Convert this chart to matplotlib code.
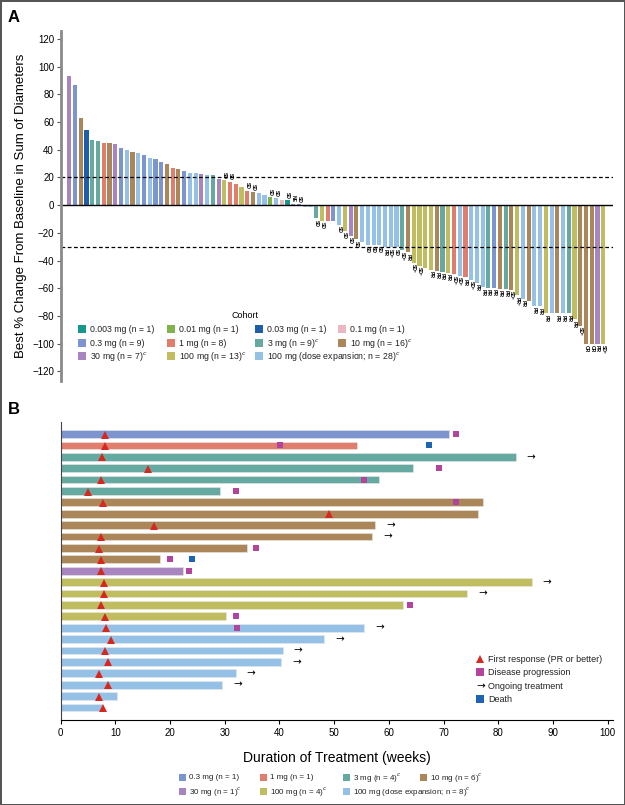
import numpy as np
import matplotlib
matplotlib.use('Agg')
import matplotlib.pyplot as plt
from matplotlib.patches import Rectangle
from matplotlib.lines import Line2D

plt.rcParams['font.family'] = ['Liberation Sans', 'DejaVu Sans']

# Cohortes (clave, color, etiqueta panel A)
cohort_keys = ['0.003', '0.01', '0.03', '0.1', '0.3', '1', '3', '10', '30', '100', 'exp']
cohort_colors = ['#17968b', '#80b34c', '#1f5ea8', '#ebb7c2', '#7d95cf', '#e07d6c',
                 '#65a9a0', '#ab8659', '#a985bf', '#bfbd5f', '#96c1e7']
cohort_labels_a = ['0.003 mg (n = 1)', '0.01 mg (n = 1)', '0.03 mg (n = 1)', '0.1 mg (n = 1)',
                   '0.3 mg (n = 9)', '1 mg (n = 8)', '3 mg (n = 9)$^c$', '10 mg (n = 16)$^c$',
                   '30 mg (n = 7)$^c$', '100 mg (n = 13)$^c$', '100 mg (dose expansion; n = 28)$^c$']
color_of = dict(zip(cohort_keys, cohort_colors))

# Panel A: waterfall
wf_cohort = ['30', '0.3', '10', '0.03', '3', '3', '1', '10', '30', '0.3',
             'exp', '10', 'exp', '0.3', 'exp', '0.3', '0.3', '10', '1', '10',
             '0.3', 'exp', 'exp', '30', 'exp', '3', '30', '100', '1', '1',
             '100', '1', '10', 'exp', 'exp', '0.01', 'exp', '0.1', '0.003', '30',
             '0.3', 'exp', 'exp', '3', '100', '1', '0.3', 'exp', '100', '30',
             '10', 'exp', 'exp', 'exp', 'exp', 'exp', 'exp', 'exp', '3', '10',
             '100', '100', '100', '100', '10', '3', '100', '1', 'exp', '1',
             'exp', 'exp', 'exp', '3', '0.3', '10', '3', '10', '100', 'exp',
             '10', 'exp', 'exp', '100', 'exp', '10', 'exp', '3', '100', '10',
             '10', '10', '30', '100']
wf_change = [93, 87, 63, 54, 47, 46.5, 45, 45, 44, 41,
             40, 38.5, 37.7, 36, 34, 33, 31.5, 30, 26.7, 25.8,
             24.8, 23.2, 23, 22.4, 21.8, 21.8, 18.7, 18.2, 17, 15.4,
             13, 10.4, 9.4, 8.5, 7, 5.6, 5.1, 3.6, 3.6, 1,
             1, -1, -1, -9.4, -11.4, -11.4, -11.4, -14.3, -18.6, -22.3,
             -24.7, -26.4, -28.8, -28.8, -28.8, -30.5, -30.5, -30.5, -32.5, -34,
             -41.5, -44, -45.5, -46.5, -47.2, -48, -48.8, -50, -51, -52,
             -54, -56, -59.3, -59.9, -59.9, -60.2, -60.4, -61.3, -65, -67.6,
             -69.2, -72.5, -73, -78, -78, -78, -78, -78, -82.5, -87,
             -100, -100, -100, -100]
SDc = 'SD\u1d9c'
PRc = 'PR\u1d9c'
wf_resp = ['', '', '', '', '', '', '', '', '', '',
           '', '', '', '', '', '', '', '', '', '',
           '', '', '', '', '', '', '', 'SD', 'SD', '',
           '', 'SD', 'SD', '', '', 'SD', 'SD', '', 'SD', 'NE',
           'SD', '', '', 'SD', 'SD', '', '', 'SD', 'SD', 'SD',
           'SD', '', 'SD', 'SD', 'SD', 'PR', SDc, 'SD', SDc, 'PR',
           SDc, SDc, '', 'PR', 'PR', 'PR', 'PR', SDc, SDc, 'PR',
           SDc, 'PR', 'PR', 'PR', 'PR', 'PR', 'PR', SDc, PRc, 'PR',
           '', 'PR', 'PR', 'PR', '', 'PR', 'PR', 'PR', 'PR', SDc,
           'CR', 'CR', 'PR', SDc]

# Panel B: duracion del tratamiento (semanas)
sw_cohort = ['0.3', '1', '3', '3', '3', '3', '10', '10', '10', '10', '10', '10', '30',
             '100', '100', '100', '100', 'exp', 'exp', 'exp', 'exp', 'exp', 'exp', 'exp', 'exp']
sw_duration = [71.0, 54.2, 83.2, 64.5, 58.2, 29.1, 77.3, 76.3, 57.5, 57.0, 34.1, 18.1, 22.3,
               86.1, 74.2, 62.5, 30.3, 55.4, 48.1, 40.6, 40.3, 32.0, 29.5, 10.4, 7.5]
sw_first_resp = [8.2, 8.2, 7.6, 16.0, 7.4, 5.0, 7.7, 49.1, 17.1, 7.3, 7.1, 7.3, 7.3,
                 7.9, 8.0, 7.4, 8.2, 8.3, 9.2, 8.2, 8.7, 7.1, 8.7, 7.1, 7.7]
pd_rows = [0, 1, 3, 4, 5, 6, 10, 11, 12, 15, 16, 17]
pd_weeks = [72.2, 40.1, 69.2, 55.4, 32.0, 72.2, 35.8, 20.0, 23.5, 63.9, 32.0, 32.3]
death_rows = [1, 11]
death_weeks = [67.4, 24.0]
ongoing_rows = [2, 8, 9, 13, 14, 17, 18, 19, 20, 21, 22]
ongoing_weeks = [86.0, 60.3, 59.8, 88.9, 77.1, 58.3, 51.0, 43.4, 43.2, 34.8, 32.3]

b_legend_keys = ['0.3', '1', '3', '10', '30', '100', 'exp']
b_legend_labels = ['0.3 mg (n = 1)', '1 mg (n = 1)', '3 mg (n = 4)$^c$', '10 mg (n = 6)$^c$',
                   '30 mg (n = 1)$^c$', '100 mg (n = 4)$^c$', '100 mg (dose expansion; n = 8)$^c$']

W, H = 625, 805
def fx(px):
    return px / W
def fy(py):
    return 1 - py / H

fig = plt.figure(figsize=(W / 100, H / 100), dpi=100)
fig.patch.set_edgecolor('#555555')
fig.patch.set_linewidth(2)

# ---------------- Panel A ----------------
axA = fig.add_axes([fx(61), fy(381), fx(613) - fx(61), fy(30.7) - fy(381)])
x = np.arange(len(wf_change))
axA.bar(x, wf_change, width=0.72, color=[color_of[c] for c in wf_cohort])
narrow = ['Liberation Sans Narrow', 'Liberation Sans', 'DejaVu Sans']
for xi, v, lab in zip(x, wf_change, wf_resp):
    if lab == '':
        continue
    if v >= 0:
        axA.text(xi, v + 1.0, lab, rotation=270, ha='center', va='bottom', fontsize=3.6,
                 fontweight='bold', family=narrow)
    else:
        axA.text(xi, v - 1.0, lab, rotation=270, ha='center', va='top', fontsize=3.6,
                 fontweight='bold', family=narrow)
axA.axhline(0, color='black', lw=1)
axA.axhline(20, color='black', lw=0.9, ls=(0, (3, 2)))
axA.axhline(-30, color='black', lw=0.9, ls=(0, (3, 2)))
axA.set_xlim(-1.45, 94.7)
axA.set_ylim(-127, 126)
axA.set_yticks(np.arange(-120, 121, 20))
axA.set_xticks([])
for s in ['top', 'right', 'bottom']:
    axA.spines[s].set_visible(False)
axA.spines['left'].set_color('#8a8a8a')
axA.spines['left'].set_linewidth(2)
axA.tick_params(axis='y', labelsize=7, length=3, width=0.8, color='#555555', pad=2)
axA.set_ylabel('Best % Change From Baseline in Sum of Diameters', fontsize=9.5, labelpad=4)

fig.text(fx(8), fy(18), 'A', fontsize=12, fontweight='bold', va='center', ha='left')

# Leyenda de cohortes (panel A)
fig.text(fx(245), fy(315), 'Cohort', fontsize=6.5, ha='center', va='center')
col_x = [78.3, 166.7, 255, 338.3]
row_y = [329, 343, 356]
order = [[0, 1, 2, 3], [4, 5, 6, 7], [8, 9, 10]]
for r, idxs in enumerate(order):
    for c, k in enumerate(idxs):
        sx, sy = col_x[c], row_y[r]
        fig.add_artist(Rectangle((fx(sx), fy(sy + 4)), 8 / W, 8 / H,
                                 transform=fig.transFigure, color=cohort_colors[k], lw=0))
        fig.text(fx(sx + 12), fy(sy), cohort_labels_a[k], fontsize=6.3, va='center', ha='left',
                 color='#222222')

# ---------------- Panel B ----------------
axB = fig.add_axes([fx(60.6), fy(720), fx(612.6) - fx(60.6), fy(421.7) - fy(720)])
rows = np.arange(len(sw_duration))
axB.barh(rows, sw_duration, height=0.68, color=[color_of[c] for c in sw_cohort],
         edgecolor='#e8e8e8', linewidth=0.4)
axB.plot(sw_first_resp, rows + 0.05, ls='none', marker='^', ms=6, color='#d6281f',
         markeredgewidth=0)
axB.plot(pd_weeks, pd_rows, ls='none', marker='s', ms=4.5, color='#b3449b',
         markeredgewidth=0)
axB.plot(death_weeks, death_rows, ls='none', marker='s', ms=4.5, color='#1d64b3',
         markeredgewidth=0)
for r, w in zip(ongoing_rows, ongoing_weeks):
    axB.text(w, r, '\u2192', ha='center', va='center', fontsize=7.5, family='DejaVu Sans')
axB.set_xlim(0, 100.9)
axB.set_ylim(25.1, -1.08)
axB.set_xticks(np.arange(0, 101, 10))
axB.set_yticks([])
for s in ['top', 'right']:
    axB.spines[s].set_visible(False)
axB.spines['left'].set_color('#444444')
axB.spines['left'].set_linewidth(0.8)
axB.spines['bottom'].set_linewidth(0.8)
axB.tick_params(axis='x', labelsize=7, length=3, width=0.8, pad=3)
axB.set_xlabel('Duration of Treatment (weeks)', fontsize=10, labelpad=9)

fig.text(fx(8), fy(410), 'B', fontsize=12, fontweight='bold', va='center', ha='left')

# Leyenda de eventos (panel B)
ev_y = [659, 672.3, 686, 699.3]
ev_labels = ['First response (PR or better)', 'Disease progression', 'Ongoing treatment', 'Death']
fig.add_artist(Line2D([fx(480.3)], [fy(ev_y[0])], marker='^', ms=6, color='#d6281f',
                      markeredgewidth=0, transform=fig.transFigure))
fig.add_artist(Line2D([fx(480.3)], [fy(ev_y[1])], marker='s', ms=5.5, color='#b3449b',
                      markeredgewidth=0, transform=fig.transFigure))
fig.text(fx(480.3), fy(ev_y[2]), '\u2192', fontsize=7.5, ha='center', va='center',
         family='DejaVu Sans')
fig.add_artist(Line2D([fx(480.3)], [fy(ev_y[3])], marker='s', ms=5.5, color='#1d64b3',
                      markeredgewidth=0, transform=fig.transFigure))
for yy, lab in zip(ev_y, ev_labels):
    fig.text(fx(488.2), fy(yy), lab, fontsize=6.5, va='center', ha='left', color='#222222')

# Leyenda de cohortes (panel B)
b_col_x = [179.4, 259.9, 342.8, 420.5]
b_row_y = [777.7, 791.3]
b_order = [[0, 1, 2, 3], [4, 5, 6]]
for r, idxs in enumerate(b_order):
    for c, k in enumerate(idxs):
        sx, sy = b_col_x[c], b_row_y[r]
        fig.add_artist(Rectangle((fx(sx), fy(sy + 3.5)), 7 / W, 7 / H,
                                 transform=fig.transFigure,
                                 color=color_of[b_legend_keys[k]], lw=0))
        fig.text(fx(sx + 10), fy(sy), b_legend_labels[k], fontsize=5.8, va='center',
                 ha='left', color='#222222')

fig.savefig('out.png', dpi=100)
